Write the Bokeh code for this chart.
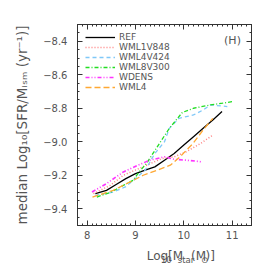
import numpy as np
from bokeh.plotting import figure
from bokeh.layouts import column
from bokeh.models import (Range1d, LinearAxis, FixedTicker, CustomJSTickFormatter,
                          Label, Legend, LegendItem)
from bokeh.embed import file_html
from bokeh.resources import INLINE

# ---------------- data ----------------
ref_x = [8.17, 8.4, 8.6, 8.8, 9.0, 9.2, 9.4, 9.6, 9.8, 10.0, 10.2, 10.4, 10.6, 10.79]
ref_y = [-9.31, -9.29, -9.255, -9.22, -9.19, -9.17, -9.15, -9.11, -9.07, -9.02, -8.97, -8.92, -8.87, -8.82]

wml1v848_x = [8.13, 8.48, 8.75, 9.15, 9.55, 9.8, 10.05, 10.35, 10.6]
wml1v848_y = [-9.31, -9.26, -9.20, -9.15, -9.10, -9.09, -9.06, -9.01, -8.96]

wml4v424_x = [8.17, 8.54, 8.79, 9.0, 9.2, 9.4, 9.6, 9.7, 9.9, 10.2, 10.4, 10.55, 10.9]
wml4v424_y = [-9.32, -9.30, -9.27, -9.22, -9.17, -9.07, -9.00, -8.92, -8.86, -8.84, -8.81, -8.78, -8.79]

wml8v300_x = [8.2, 8.5, 8.75, 8.95, 9.05, 9.25, 9.45, 9.7, 9.97, 10.2, 10.55, 10.8, 11.02]
wml8v300_y = [-9.33, -9.30, -9.26, -9.23, -9.19, -9.12, -9.03, -8.92, -8.825, -8.80, -8.78, -8.77, -8.76]

wdens_x = [8.1, 8.4, 8.75, 9.05, 9.3, 9.6, 9.8, 10.05, 10.38]
wdens_y = [-9.30, -9.25, -9.18, -9.14, -9.11, -9.09, -9.105, -9.11, -9.12]

wml4_x = [8.11, 8.54, 8.89, 9.16, 9.45, 9.72, 9.92, 10.19, 10.4, 10.6]
wml4_y = [-9.33, -9.29, -9.24, -9.20, -9.17, -9.14, -9.09, -9.01, -8.93, -8.86]

series_names = ["REF", "WML1V848", "WML4V424", "WML8V300", "WDENS", "WML4"]
x_ticks = [8, 9, 10, 11]
y_ticks = [-9.4, -9.2, -9.0, -8.8, -8.6, -8.4]
panel_tag = "(H)"
y_title = "median Log\u2081\u2080[SFR/M\u1d62\u209b\u2098 (yr\u207b\u00b9)]"

# ---------------- layout (picture pixels) ----------------
TOTAL = 266
XH = 24                 # height of the strip holding the x-axis title
MW = TOTAL
MH = TOTAL - XH
FRAME_L, FRAME_R, FRAME_T, FRAME_B = 77, 251, 24, 225
BL = FRAME_L
BR = TOTAL - FRAME_R
BT = FRAME_T
BB = MH - FRAME_B
X0, X1 = 7.8, 11.4
Y0, Y1 = -9.5, -8.3

TXT = "#555555"
AX = "#333333"
FONT = "DejaVu Sans"

p = figure(width=MW, height=MH, output_backend="svg", toolbar_location=None,
           x_range=Range1d(X0, X1), y_range=Range1d(Y0, Y1),
           min_border_left=BL, min_border_right=BR,
           min_border_top=BT, min_border_bottom=BB)
p.grid.visible = False
p.outline_line_color = AX
p.background_fill_color = "white"
p.border_fill_alpha = 0

p.add_layout(LinearAxis(), "above")
p.add_layout(LinearAxis(), "right")

x_minor = [round(v, 2) for v in np.arange(7.8, 11.41, 0.1)]
y_minor = [round(v, 3) for v in np.arange(-9.5, -8.29, 0.05)]

for ax in p.xaxis:
    ax.ticker = FixedTicker(ticks=x_ticks, minor_ticks=x_minor)
    ax.formatter = CustomJSTickFormatter(code="return tick.toFixed(0);")
for ax in p.yaxis:
    ax.ticker = FixedTicker(ticks=y_ticks, minor_ticks=y_minor)
    ax.formatter = CustomJSTickFormatter(code="return tick.toFixed(1).replace('-', '\\u2212');")

for ax in list(p.xaxis) + list(p.yaxis):
    ax.axis_line_color = AX
    ax.major_tick_line_color = AX
    ax.minor_tick_line_color = AX
    ax.major_tick_in = 5
    ax.major_tick_out = 0
    ax.minor_tick_in = 2
    ax.minor_tick_out = 0
    ax.major_label_text_font = FONT
    ax.major_label_text_font_size = "10px"
    ax.major_label_text_color = TXT

p.below[0].major_label_standoff = 5
left = p.left[0]
left.major_label_standoff = 10
left.axis_label = y_title
left.axis_label_text_font = FONT
left.axis_label_text_font_size = "13.5px"
left.axis_label_text_font_style = "normal"
left.axis_label_text_color = TXT
left.axis_label_standoff = 10

for ax in (p.above[0], p.right[0]):
    ax.formatter = CustomJSTickFormatter(code="return '';")
    ax.major_label_text_color = None
    ax.major_label_standoff = 0

# ---------------- series ----------------
styles = [
    (ref_x, ref_y, "black", "solid", 1.3),
    (wml1v848_x, wml1v848_y, "#ff7f7f", "1 2", 1.5),
    (wml4v424_x, wml4v424_y, "#7fc8f8", "4 3", 1.3),
    (wml8v300_x, wml8v300_y, "#22dd22", "4 2 1 2", 1.3),
    (wdens_x, wdens_y, "#ff33ff", "4 2 1 2 1 2", 1.6),
    (wml4_x, wml4_y, "#ffa833", "6 3", 1.3),
]
items = []
for name, (xs, ys, col, dash, lw) in zip(series_names, styles):
    r = p.line(xs, ys, line_color=col, line_dash=dash, line_width=lw)
    items.append(LegendItem(label=name, renderers=[r]))

leg = Legend(items=items, location="top_left", margin=8, padding=10, spacing=0,
             border_line_color=None, background_fill_alpha=0,
             glyph_width=30, glyph_height=8, label_height=8, label_standoff=4,
             label_text_font=FONT, label_text_font_size="9px", label_text_color=TXT)
p.add_layout(leg)

# panel tag inside the frame
p.add_layout(Label(x=232 - FRAME_L, y=FRAME_B - 40, x_units="screen", y_units="screen",
                   text=panel_tag, text_font=FONT, text_font_size="11px",
                   text_color=TXT, text_align="center", text_baseline="middle"))

# ---------------- x-axis title in its own strip ----------------
WID = {" ": .318, "(": .390, ")": .390, "/": .337, "[": .390, "]": .390,
       "0": .636, "1": .636, "\u2212": .838, "L": .557, "M": .863, "S": .635,
       "F": .575, "R": .695, "I": .295, "a": .613, "d": .635, "e": .615,
       "g": .635, "i": .278, "m": .974, "n": .634, "o": .612, "r": .411,
       "s": .521, "t": .392, "y": .592, "\u2299": .838}
MID = 0.33   # distance from baseline up to the text's middle, in em


def tw(s, size):
    return sum(WID.get(c, 0.6) for c in s) * size


xfig = figure(width=TOTAL, height=XH, output_backend="svg", toolbar_location=None,
              x_range=Range1d(0, TOTAL), y_range=Range1d(XH, 0),
              min_border_left=0, min_border_right=0,
              min_border_top=0, min_border_bottom=0)
xfig.axis.visible = False
xfig.grid.visible = False
xfig.outline_line_color = None
xfig.background_fill_alpha = 0
xfig.border_fill_alpha = 0

# pieces: (text, font size, baseline shift, gap before in px)
xl = [("Log", 12, 0, 0), ("10", 8.5, 3, 0), ("[M", 12, 0, 0), ("star", 8.5, 3, 0),
      ("(M", 12, 0, 3.8), ("\u2299", 8.5, 3, 0), (")]", 12, 0, 0)]
total = sum(tw(t, s) + g for t, s, _, g in xl)
cx = 155.5 - total / 2
for t, s, d, g in xl:
    cx += g
    xfig.add_layout(Label(x=cx, y=259 - MH + d - MID * s, text=t, text_font=FONT,
                          text_font_size=f"{s}px", text_color=TXT,
                          text_align="left", text_baseline="middle"))
    cx += tw(t, s)

layout = column(p, xfig, spacing=0)
open("out.html", "w").write(file_html(layout, INLINE))
